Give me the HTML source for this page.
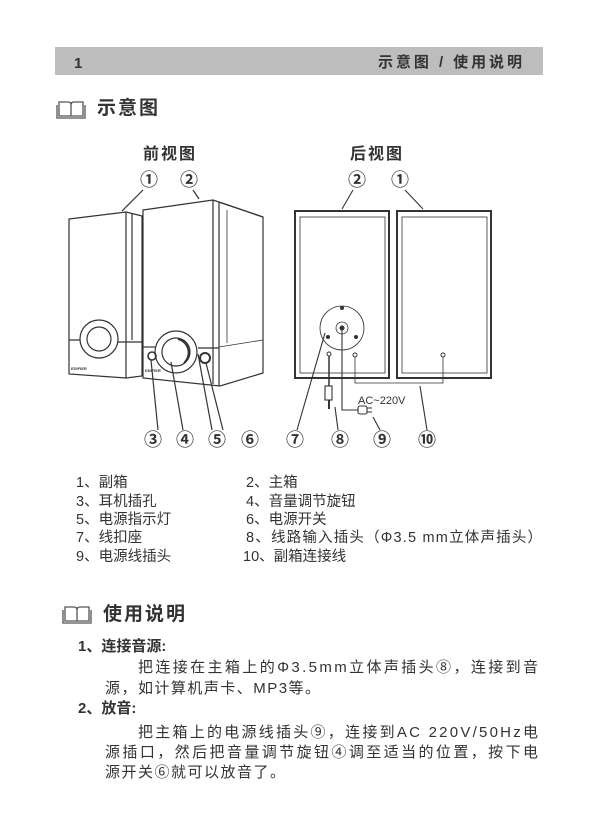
<!DOCTYPE html>
<html><head><meta charset="utf-8"><style>
html,body{margin:0;padding:0;background:#fff;}
svg{display:block;}
text{font-family:"Liberation Sans","Noto Sans CJK SC",sans-serif;fill:#333;}
</style></head><body>
<svg width="600" height="833" viewBox="0 0 600 833" xmlns="http://www.w3.org/2000/svg">
<!-- header -->
<rect x="55" y="47" width="488" height="28" fill="#bdbdbd"/>
<text x="74" y="68" font-size="15" font-weight="bold" fill="#222">1</text>
<text x="378" y="67" font-size="15" textLength="144" font-family="Noto Serif CJK SC, serif" font-weight="bold" fill="#222">示意图 / 使用说明</text>

<!-- book icon -->
<g fill="none" stroke="#555" stroke-width="1.3">
<path d="M59 102 h9 q3 0 3 3 v11 h-12 z M83 102 h-9 q-3 0 -3 3 v11 h12 z"/>
<path d="M57 105 v13 h28 v-13"/>
</g>
<text x="97" y="114" font-size="19" letter-spacing="2" font-weight="bold" fill="#222">示意图</text>

<text x="143" y="159" font-size="16" letter-spacing="2" font-weight="bold" fill="#222">前视图</text>
<text x="350" y="159" font-size="16" letter-spacing="2" font-weight="bold" fill="#222">后视图</text>

<g font-size="18" fill="#111" text-anchor="middle" font-weight="bold">
<text x="149" y="186">①</text><text x="189" y="186">②</text>
<text x="357" y="186">②</text><text x="400" y="186">①</text>
<text x="153" y="446">③</text><text x="185" y="446">④</text><text x="217" y="446">⑤</text><text x="250" y="446">⑥</text>
<text x="295" y="446">⑦</text><text x="340" y="446">⑧</text><text x="382" y="446">⑨</text><text x="427" y="446">⑩</text>
</g>

<!-- front view -->
<g fill="none" stroke="#333" stroke-width="1.2">
<polygon points="69,219 126,212 142,216 142,376 126,378 69,374" fill="#fff"/>
<line x1="126" y1="212" x2="126" y2="378"/>
<line x1="132" y1="214" x2="132" y2="340"/>
<line x1="69" y1="340" x2="89" y2="340"/>
<line x1="115" y1="342" x2="142" y2="342"/>
<circle cx="99" cy="339" r="19" fill="#fff"/>
<circle cx="99" cy="339" r="12"/>
<polygon points="143,210 213,200 263,217 263,373 220,386 143,378" fill="#fff"/>
<line x1="213" y1="200" x2="213" y2="384"/>
<line x1="219" y1="202" x2="219" y2="386"/>
<line x1="219" y1="202" x2="263" y2="217"/>
<line x1="143" y1="347" x2="155" y2="347"/>
<line x1="198" y1="348" x2="219" y2="348"/>
<line x1="219" y1="347" x2="263" y2="340" stroke-width="0.8"/>
<line x1="227" y1="210" x2="227" y2="343" stroke-width="0.8"/>
<circle cx="176" cy="352" r="21" fill="#fff"/>
<circle cx="176" cy="352" r="14"/>
<path d="M178 339 a14 14 0 0 1 6 24" stroke-width="2"/>
<circle cx="152" cy="356" r="4" stroke-width="1.6"/>
<circle cx="205" cy="358" r="5" stroke-width="2"/>
<line x1="143" y1="190" x2="122" y2="211"/>
<line x1="193" y1="190" x2="199" y2="199"/>
<line x1="158" y1="430" x2="151" y2="360"/>
<line x1="183" y1="430" x2="171" y2="362"/>
<line x1="212" y1="430" x2="198" y2="354"/>
<line x1="223" y1="430" x2="206" y2="363"/>
</g>
<g font-size="4" font-weight="bold" fill="#333">
<text x="71" y="370">EDIFIER</text><text x="145" y="372">EDIFIER</text>
</g>

<!-- back view -->
<g fill="none" stroke="#333">
<rect x="295" y="211" width="94" height="167" stroke-width="2"/>
<rect x="300" y="217" width="85" height="156" stroke-width="0.8"/>
<rect x="397" y="211" width="94" height="167" stroke-width="2"/>
<rect x="402" y="217" width="85" height="156" stroke-width="0.8"/>
<circle cx="342" cy="328" r="22" stroke-width="0.8"/>
<circle cx="342" cy="328" r="6" stroke-width="0.8"/>
<circle cx="329" cy="354" r="2"/><circle cx="355" cy="355" r="2"/><circle cx="443" cy="355" r="2"/>
<polyline points="355,357 355,383 443,383 443,357" stroke-width="0.8"/>
<line x1="420" y1="386" x2="427" y2="430" stroke-width="1.1"/>
<line x1="329" y1="356" x2="329" y2="386" stroke-width="1.5"/>
<rect x="325" y="386" width="7" height="14" stroke-width="1.1"/>
<line x1="329" y1="400" x2="329" y2="409" stroke-width="2"/>
<line x1="335" y1="407" x2="338" y2="430" stroke-width="1.1"/>
<polyline points="342,328 342,410 358,410" stroke-width="1.1"/>
<rect x="358" y="406" width="9" height="8" rx="2" stroke-width="1.1"/>
<line x1="367" y1="408" x2="372" y2="408"/><line x1="367" y1="412" x2="372" y2="412"/>
<line x1="373" y1="417" x2="380" y2="430" stroke-width="1.1"/>
<line x1="325" y1="333" x2="297" y2="430" stroke-width="1.1"/>
<line x1="353" y1="190" x2="342" y2="209" stroke-width="1.1"/>
<line x1="405" y1="190" x2="423" y2="209" stroke-width="1.1"/>
</g>
<g fill="#333"><circle cx="342" cy="328" r="2.5"/><circle cx="342" cy="308" r="2"/><circle cx="328" cy="337" r="2"/><circle cx="356" cy="337" r="2"/></g>
<text x="358" y="404" font-size="11" fill="#222">AC~220V</text>

<!-- list -->
<g font-size="14.5" fill="#444">
<text x="76" y="487">1、副箱</text><text x="246" y="487">2、主箱</text>
<text x="76" y="506">3、耳机插孔</text><text x="246" y="506">4、音量调节旋钮</text>
<text x="76" y="524">5、电源指示灯</text><text x="246" y="524">6、电源开关</text>
<text x="76" y="542">7、线扣座</text><text x="246" y="542" textLength="296">8、线路输入插头（Φ3.5 mm立体声插头）</text>
<text x="76" y="561">9、电源线插头</text><text x="243" y="561">10、副箱连接线</text>
</g>

<!-- usage -->
<g fill="none" stroke="#555" stroke-width="1.3">
<path d="M65 607 h9 q3 0 3 3 v11 h-12 z M89 607 h-9 q-3 0 -3 3 v11 h12 z"/>
<path d="M63 610 v13 h28 v-13"/>
</g>
<text x="103" y="620" font-size="19" letter-spacing="2" font-weight="bold" fill="#222">使用说明</text>
<g font-size="15" fill="#333">
<text x="78" y="651" font-weight="bold">1、连接音源:</text>
<text x="138" y="672" textLength="400" fill="#444">把连接在主箱上的Φ3.5mm立体声插头⑧，连接到音</text>
<text x="105" y="693" textLength="215" fill="#444">源，如计算机声卡、MP3等。</text>
<text x="78" y="713" font-weight="bold">2、放音:</text>
<text x="138" y="737" textLength="400" fill="#444">把主箱上的电源线插头⑨，连接到AC 220V/50Hz电</text>
<text x="105" y="757" textLength="433" fill="#444">源插口，然后把音量调节旋钮④调至适当的位置，按下电</text>
<text x="105" y="777" textLength="180" fill="#444">源开关⑥就可以放音了。</text>
</g>
</svg>
</body></html>
